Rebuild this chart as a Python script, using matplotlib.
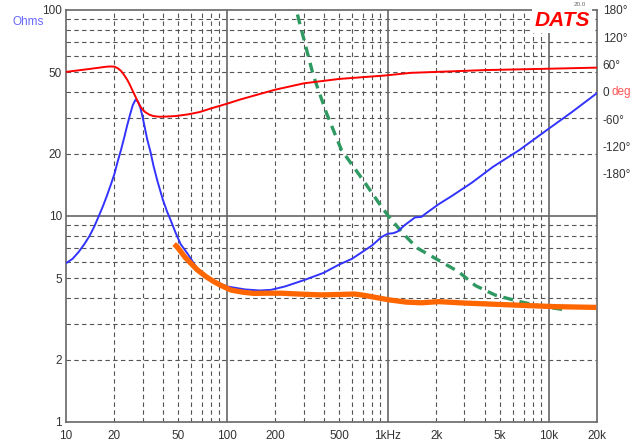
import numpy as np
import matplotlib
matplotlib.use("Agg")
import matplotlib.pyplot as plt

plt.rcParams['font.family'] = ['Liberation Sans', 'DejaVu Sans']

# impedance magnitude (blue), Hz / Ohms
imp_freq = [10, 11, 12, 13, 14, 15, 16, 17, 18, 19, 20, 21, 22, 23, 24, 25, 26, 27, 28,
            29, 30, 31, 32, 33.5, 35, 37, 40, 42.5, 44.6, 48, 51.6, 56.7, 65, 80, 100, 130,
            160, 188, 230, 303, 400, 494, 600, 687, 800, 914, 1000, 1080, 1150, 1280, 1480,
            1620, 1700, 2070, 2500, 3330, 4500, 6580, 10000, 14000, 20000]
imp_ohm = [5.9, 6.2, 6.7, 7.3, 8.0, 8.9, 10, 11.2, 12.6, 14.2, 16, 18.5, 21, 24, 27.5, 31,
           34.5, 36.6, 36, 33.5, 30, 26.5, 23.5, 20.5, 17.5, 14.8, 12, 10.5, 9.6, 8.3, 7.3,
           6.6, 5.6, 4.9, 4.55, 4.4, 4.35, 4.38, 4.55, 4.89, 5.3, 5.79, 6.2, 6.65, 7.2, 7.9,
           8.2, 8.25, 8.4, 9.05, 9.85, 9.9, 10.2, 11.4, 12.5, 14.5, 17.3, 20.9, 26.5, 32, 39.5]

# impedance phase (red), Hz / degrees
ph_freq = [10, 14, 18, 19, 20, 21, 22, 23, 24, 25, 26, 27, 28, 29, 30, 31, 33, 35, 38,
           42, 48, 58, 68, 80, 100, 120, 141, 200, 302, 500, 954, 1400, 2000, 4000, 10000,
           20000]
ph_deg = [44, 50.5, 55.6, 56, 55.5, 52, 46, 37, 27, 15, 2, -10, -22, -32, -39, -44, -50,
          -53, -54.5, -54, -53, -49, -44, -36, -26, -17, -10, 5, 19, 28.6, 36, 42, 44,
          48, 51, 53.4]

# orange curve
or_freq = [47, 49, 55, 65.6, 75, 83.4, 92, 106, 125, 147, 180, 217, 300, 386, 500, 620,
           700, 791, 1010, 1300, 1620, 2070, 3000, 4200, 7000, 11100, 19800]
or_ohm = [7.3, 7.1, 6.3, 5.47, 5.05, 4.79, 4.6, 4.37, 4.27, 4.21, 4.22, 4.22, 4.17, 4.14,
          4.16, 4.18, 4.13, 4.06, 3.92, 3.82, 3.79, 3.84, 3.78, 3.74, 3.68, 3.63, 3.6]

# green dashed curve
gr_freq = [233, 270, 345, 416, 516, 700, 914, 1020, 1250, 1520, 2070, 2760, 3500, 4660,
           6600, 9000, 11060, 12770]
gr_ohm = [130, 100, 48, 31.6, 20.9, 15, 11.1, 9.9, 8.2, 7.0, 6.1, 5.36, 4.6, 4.13,
          3.84, 3.65, 3.56, 3.5]

x_ticks = [10, 20, 50, 100, 200, 500, 1000, 2000, 5000, 10000, 20000]
x_labels = ['10', '20', '50', '100', '200', '500', '1kHz', '2k', '5k', '10k', '20k']
y_ticks = [1, 2, 5, 10, 20, 50, 100]
y_labels = ['1', '2', '5', '10', '20', '50', '100']
ph_ticks = [180, 120, 60, 0, -60, -120, -180]
ph_labels = ['180°', '120°', '60°', '0', '-60°', '-120°', '-180°']

fig = plt.figure(figsize=(6.32, 4.41), dpi=100)
ax = fig.add_axes([66 / 632, 19 / 441, 531 / 632, 412 / 441])
ax.set_xscale('log')
ax.set_yscale('log')
ax.set_xlim(10, 20000)
ax.set_ylim(1, 100)

# grid: dashed minor lines, solid decade lines
grid_col = '#555555'
for dec in [10, 100, 1000]:
    for k in range(2, 10):
        ax.axvline(k * dec, color=grid_col, lw=0.8, ls=(0, (4, 3)), zorder=1)
for dec in [1, 10]:
    for k in range(2, 10):
        ax.axhline(k * dec, color=grid_col, lw=0.8, ls=(0, (4, 3)), zorder=1)
for v in [100, 1000, 10000]:
    ax.axvline(v, color='#666666', lw=1.2, zorder=1)
ax.axhline(10, color='#666666', lw=1.2, zorder=1)

for s in ax.spines.values():
    s.set_color('#666666')
    s.set_linewidth(1.2)

ax.set_xticks(x_ticks)
ax.set_xticklabels(x_labels)
ax.set_yticks(y_ticks)
ax.set_yticklabels(y_labels)
ax.minorticks_off()
ax.tick_params(length=0, labelsize=8.5, colors='#333333')
ax.tick_params(axis='x', pad=6)
ax.tick_params(axis='y', pad=3)

ax.plot(imp_freq, imp_ohm, color='#3333FF', lw=1.4, zorder=4)
ax.plot(or_freq, or_ohm, color='#FF6600', lw=3.8, solid_capstyle='butt', zorder=5)
ax.plot(gr_freq, gr_ohm, color='#2E9960', lw=2.4, ls=(0, (3, 2)), zorder=3)

# phase axis on the right
ax2 = ax.twinx()
ax2.set_ylim(-725, 180)
ax2.set_xlim(10, 20000)
ax2.plot(ph_freq, ph_deg, color='#FF0000', lw=1.4, zorder=4)
ax2.set_yticks(ph_ticks)
ax2.set_yticklabels(ph_labels)
ax2.tick_params(length=0, labelsize=8.5, colors='#333333', pad=4)
for s in ax2.spines.values():
    s.set_visible(False)

fig.text(611 / 632, 1 - 92 / 441, 'deg', color='#FF5555', fontsize=8.5, va='center', ha='left')
fig.text(28 / 632, 1 - 22 / 441, 'Ohms', color='#6666FF', fontsize=8.5, va='center', ha='center')

ax.text(0.934, 0.975, 'DATS', transform=ax.transAxes, color='#FF0000', fontsize=15,
        fontweight='bold', fontstyle='italic', ha='center', va='center', zorder=6,
        bbox=dict(facecolor='white', edgecolor='none', pad=2))
fig.text(580 / 632, 1 - 5 / 441, '20.0', color='#666666', fontsize=4.5, ha='center', va='center')

fig.savefig('out.png', dpi=100)
